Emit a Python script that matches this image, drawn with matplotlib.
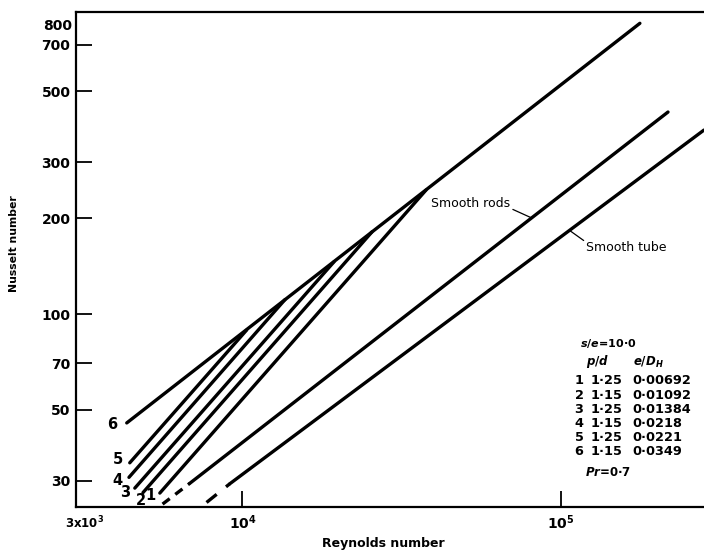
import numpy as np
import matplotlib
matplotlib.use("Agg")
import matplotlib.pyplot as plt

plt.rcParams["font.family"] = ["DejaVu Sans"]
plt.rcParams["font.weight"] = "bold"
plt.rcParams["mathtext.fontset"] = "custom"
plt.rcParams["mathtext.rm"] = "DejaVu Sans:bold"
plt.rcParams["mathtext.it"] = "DejaVu Sans:bold:italic"
plt.rcParams["mathtext.bf"] = "DejaVu Sans:bold"

# Ribbed rod bundles (s/e = 10.0): each curve runs from its low-Re start
# up to where it joins the envelope traced by curve 6
curve_ids = ["1", "2", "3", "4", "5", "6"]
re_start = [5500, 4870, 4590, 4400, 4425, 4330]
nu_start = [27.4, 27.5, 28.4, 30.7, 34.1, 45.5]
re_join = [37700, 25500, 19400, 13600, 10300, 177000]
nu_join = [245, 181, 146, 111, 89, 818]

# Smooth references (dashed at the low-Re end)
rods_re_dash = [5610, 6830]
rods_nu_dash = [25.3, 29.4]
rods_re = [6830, 216900]
rods_nu = [29.4, 430.7]

tube_re_dash = [7710, 9120]
tube_nu_dash = [25.6, 29.3]
tube_re = [9120, 281300]
tube_nu = [29.3, 378]

table_pd = ["1·25", "1·15", "1·25", "1·15", "1·25", "1·15"]
table_eDh = ["0·00692", "0·01092", "0·01384", "0·0218", "0·0221", "0·0349"]

y_ticks = [30, 50, 70, 100, 200, 300, 500, 700]
y_tick_labels = ["30", "50", "70", "100", "200", "300", "500", "700"]
x_ticks = [1e4, 1e5]
x_tick_labels = [r"$10^4$", r"$10^5$"]

W, H = 704, 554
fig = plt.figure(figsize=(W / 100, H / 100), dpi=100)
ax = fig.add_axes([76 / W, (H - 506.7) / H, 628 / W, 495 / H])
ax.set_xscale("log")
ax.set_yscale("log")
ax.set_xlim(3000, 281400)
ax.set_ylim(24.83, 889.6)

LW = 2.4
for cid, r0, n0, r1, n1 in zip(curve_ids, re_start, nu_start, re_join, nu_join):
    ax.plot([r0, r1], [n0, n1], color="black", lw=LW, solid_capstyle="round")

ax.plot(rods_re, rods_nu, color="black", lw=LW, solid_capstyle="round")
ax.plot(rods_re_dash, rods_nu_dash, color="black", lw=LW, linestyle=(0, (2.7, 2.1)))
ax.plot(tube_re, tube_nu, color="black", lw=LW, solid_capstyle="round")
ax.plot(tube_re_dash, tube_nu_dash, color="black", lw=LW, linestyle=(0, (3.9, 3.6)))

# curve numbers beside the start of each curve
label_offsets = {"1": (-3.0, -1.5), "2": (-1.5, -6.0), "3": (-3.5, -3.0),
                 "4": (-4.5, -2.0), "5": (-4.5, 2.5), "6": (-7.0, -1.0)}
for cid, r0, n0 in zip(curve_ids, re_start, nu_start):
    dx, dy = label_offsets[cid]
    ax.annotate(cid, xy=(r0, n0), xytext=(dx, dy), textcoords="offset points",
                ha="right" if cid != "2" else "center", va="center", fontsize=10.5)


def on_line(res, nus, re):
    return 10 ** np.interp(np.log10(re), np.log10(res), np.log10(nus))


re_a = 80900
ax.annotate("Smooth rods", xy=(re_a, on_line(rods_re, rods_nu, re_a)),
            xytext=(-15.5, 10.3), textcoords="offset points", ha="right", va="center",
            fontsize=9, fontweight="normal",
            arrowprops=dict(arrowstyle="-", lw=0.9, color="black", shrinkA=0, shrinkB=0,
                            relpos=(1.0, 0.15)))
re_b = 106400
ax.annotate("Smooth tube", xy=(re_b, on_line(tube_re, tube_nu, re_b)),
            xytext=(12.2, -12.0), textcoords="offset points", ha="left", va="center",
            fontsize=9, fontweight="normal",
            arrowprops=dict(arrowstyle="-", lw=0.9, color="black", shrinkA=0, shrinkB=0,
                            relpos=(0.0, 0.85)))

# axes styling
for side in ("left", "bottom", "top"):
    ax.spines[side].set_linewidth(1.6)
ax.spines["right"].set_visible(False)
ax.minorticks_off()
ax.set_yticks(y_ticks)
ax.set_yticklabels(y_tick_labels)
ax.set_xticks(x_ticks)
ax.set_xticklabels(x_tick_labels)
ax.tick_params(axis="both", which="major", direction="in", length=11.5, width=1.3,
               labelsize=10)
ax.tick_params(axis="y", pad=4)
ax.tick_params(axis="x", pad=5)
ax.text(-0.006, 800, "800", transform=ax.get_yaxis_transform(), ha="right", va="center",
        fontsize=10)
ax.text(0.013, -0.016, r"3x10$^3$", transform=ax.transAxes, ha="center", va="top",
        fontsize=8.5)

fig.text(383 / W, 1 - 543 / H, "Reynolds number", ha="center", va="center", fontsize=9)
fig.text(14 / W, 1 - 244 / H, "Nusselt number", ha="center", va="center", rotation=90,
         fontsize=7.8)

# roughness parameters
def px(x, y):
    return x / W, 1 - y / H

fs_t = 9.3
fig.text(*px(580, 344), r"$s/e$=10·0", ha="left", va="center", fontsize=8)
fig.text(*px(598, 362), r"$p/d$", ha="center", va="center", fontsize=8.5)
fig.text(*px(648, 362), r"$e/D_H$", ha="center", va="center", fontsize=8.5)
row_y0, row_dy = 381, 14.1
for i, (cid, pd_, ed) in enumerate(zip(curve_ids, table_pd, table_eDh)):
    y = row_y0 + i * row_dy
    fig.text(*px(579, y), cid, ha="center", va="center", fontsize=fs_t)
    fig.text(*px(591, y), pd_, ha="left", va="center", fontsize=fs_t)
    fig.text(*px(632, y), ed, ha="left", va="center", fontsize=fs_t)
fig.text(*px(585, 473), r"$Pr$=0·7", ha="left", va="center", fontsize=8.5)

fig.savefig("out.png", dpi=100)
